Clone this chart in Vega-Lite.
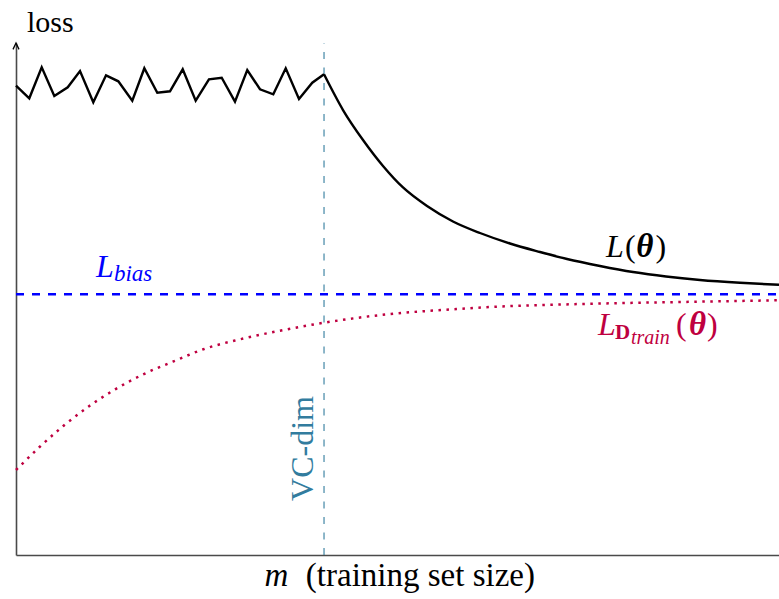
{
  "$schema": "https://vega.github.io/schema/vega-lite/v6.json",
  "width": 763,
  "height": 512,
  "autosize": {"type": "none"},
  "padding": {"left": 16, "top": 43, "right": 0, "bottom": 44},
  "background": "white",
  "config": {
    "view": {"stroke": null},
    "font": "Liberation Serif",
    "text": {"font": "Liberation Serif"},
    "axis": {"grid": false, "labels": false, "ticks": false, "domainColor": "#4a4a4a", "domainWidth": 1.6}
  },
  "datasets": {
    "trueLoss": [
      {"m": 0, "loss": 91.66}, {"m": 1.74, "loss": 89.2}, {"m": 3.37, "loss": 95.25}, {"m": 5.02, "loss": 89.65},
      {"m": 6.78, "loss": 91.35}, {"m": 8.39, "loss": 94.53}, {"m": 10.13, "loss": 88.42}, {"m": 11.8, "loss": 93.69},
      {"m": 13.41, "loss": 92.52}, {"m": 15.24, "loss": 88.73}, {"m": 16.82, "loss": 95.06}, {"m": 18.52, "loss": 90.29},
      {"m": 20.18, "loss": 90.57}, {"m": 21.85, "loss": 94.86}, {"m": 23.55, "loss": 88.73}, {"m": 25.29, "loss": 92.91},
      {"m": 26.96, "loss": 93.22}, {"m": 28.7, "loss": 88.54}, {"m": 30.31, "loss": 94.73}, {"m": 31.98, "loss": 90.96},
      {"m": 33.72, "loss": 89.98}, {"m": 35.35, "loss": 95.06}, {"m": 37.09, "loss": 89.06}, {"m": 38.83, "loss": 92.25},
      {"m": 40.37, "loss": 93.89}, {"m": 42.86, "loss": 86.91}, {"m": 45.48, "loss": 81.05}, {"m": 48.1, "loss": 75.98},
      {"m": 50.72, "loss": 71.78}, {"m": 53.87, "loss": 68.16}, {"m": 57.27, "loss": 65.14}, {"m": 60.81, "loss": 62.89},
      {"m": 64.74, "loss": 60.84}, {"m": 68.68, "loss": 59.18}, {"m": 72.22, "loss": 57.81}, {"m": 76.54, "loss": 56.45},
      {"m": 80.87, "loss": 55.27}, {"m": 85.19, "loss": 54.39}, {"m": 89.65, "loss": 53.71}, {"m": 94.89, "loss": 53.16},
      {"m": 100, "loss": 52.77}
    ],
    "trainLoss": [
      {"m": 0, "loss": 16.6}, {"m": 3.05, "loss": 21.04}, {"m": 6.2, "loss": 25.2}, {"m": 9.48, "loss": 28.96},
      {"m": 13.01, "loss": 32.36}, {"m": 16.68, "loss": 35.29}, {"m": 20.54, "loss": 37.75}, {"m": 24.55, "loss": 40.18},
      {"m": 29.36, "loss": 42.13}, {"m": 34.6, "loss": 43.81}, {"m": 40.72, "loss": 45.45}, {"m": 49.02, "loss": 47.07},
      {"m": 57.31, "loss": 47.99}, {"m": 61.47, "loss": 48.38}, {"m": 73.92, "loss": 49.02}, {"m": 87.02, "loss": 49.41},
      {"m": 100, "loss": 49.75}
    ]
  },
  "encoding": {
    "x": {"field": "m", "type": "quantitative", "scale": {"domain": [0, 100], "nice": false, "zero": false}, "axis": {"title": null}},
    "y": {"field": "loss", "type": "quantitative", "scale": {"domain": [0, 100], "nice": false, "zero": false}, "axis": {"title": null}}
  },
  "layer": [
    {
      "data": {"values": [{"m": 40.37, "loss": 0, "loss2": 100}]},
      "mark": {"type": "rule", "color": "#327c9e", "strokeWidth": 1.1, "strokeDash": [7, 8.5]},
      "encoding": {"y2": {"field": "loss2"}}
    },
    {
      "data": {"values": [{"m": 0, "m2": 100, "loss": 50.92}]},
      "mark": {"type": "rule", "color": "#0000ff", "strokeWidth": 2.4, "strokeDash": [8, 8]},
      "encoding": {"x2": {"field": "m2"}}
    },
    {
      "data": {"name": "trainLoss"},
      "mark": {"type": "line", "color": "#bf0040", "strokeWidth": 2.5, "strokeDash": [2.5, 5.5], "strokeCap": "butt", "interpolate": "monotone"},
      "encoding": {}
    },
    {
      "data": {"name": "trueLoss"},
      "transform": [{"filter": "datum.m <= 40.37"}],
      "mark": {"type": "line", "color": "#000000", "strokeWidth": 2.4, "strokeJoin": "miter"},
      "encoding": {}
    },
    {
      "data": {"name": "trueLoss"},
      "transform": [{"filter": "datum.m >= 40.37"}],
      "mark": {"type": "line", "color": "#000000", "strokeWidth": 2.4, "interpolate": "monotone"},
      "encoding": {}
    },
    {
      "data": {"values": [{"m": 0, "loss": 100}]},
      "mark": {"type": "point", "shape": "M-0.75,1.6 L0,0 L0.75,1.6", "filled": false, "stroke": "#000000", "strokeWidth": 1.3, "size": 64, "opacity": 1}
    },
    {
      "data": {"values": [{"text": "loss", "m": 1.44, "loss": 102.2}]},
      "mark": {"type": "text", "font": "Liberation Serif", "align": "left", "baseline": "alphabetic", "fontSize": 30, "color": "#000000"},
      "encoding": {"text": {"field": "text"}}
    },
    {
      "data": {"values": [{"text": "m", "m": 35.7, "loss": -6.05}]},
      "mark": {"type": "text", "font": "Liberation Serif", "align": "right", "baseline": "alphabetic", "fontSize": 33, "fontStyle": "italic", "color": "#000000"},
      "encoding": {"text": {"field": "text"}}
    },
    {
      "data": {"values": [{"text": "(training set size)", "m": 53.0, "loss": -6.05}]},
      "mark": {"type": "text", "font": "Liberation Serif", "align": "center", "baseline": "alphabetic", "fontSize": 33, "color": "#000000"},
      "encoding": {"text": {"field": "text"}}
    },
    {
      "data": {"values": [{"text": "VC-dim", "m": 38.93, "loss": 20.8}]},
      "mark": {"type": "text", "font": "Liberation Serif", "align": "center", "baseline": "alphabetic", "angle": 270, "fontSize": 32, "color": "#327c9e"},
      "encoding": {"text": {"field": "text"}}
    },
    {
      "data": {"values": [{"text": "L", "m": 10.48, "loss": 54.3}]},
      "mark": {"type": "text", "font": "Liberation Serif", "align": "left", "baseline": "alphabetic", "fontSize": 32, "fontStyle": "italic", "color": "#0000ff"},
      "encoding": {"text": {"field": "text"}}
    },
    {
      "data": {"values": [{"text": "bias", "m": 12.84, "loss": 53.52}]},
      "mark": {"type": "text", "font": "Liberation Serif", "align": "left", "baseline": "alphabetic", "fontSize": 23, "fontStyle": "italic", "color": "#0000ff"},
      "encoding": {"text": {"field": "text"}}
    },
    {
      "data": {"values": [{"text": "L", "m": 77.33, "loss": 58.26}]},
      "mark": {"type": "text", "font": "Liberation Serif", "align": "left", "baseline": "alphabetic", "fontSize": 32, "fontStyle": "italic", "color": "#000000"},
      "encoding": {"text": {"field": "text"}}
    },
    {
      "data": {"values": [{"text": "(", "m": 79.82, "loss": 58.26}, {"text": ")", "m": 83.8, "loss": 58.26}]},
      "mark": {"type": "text", "font": "Liberation Serif", "align": "left", "baseline": "alphabetic", "fontSize": 32, "fontWeight": "normal", "color": "#000000"},
      "encoding": {"text": {"field": "text"}}
    },
    {
      "data": {"values": [{"text": "θ", "m": 81.3, "loss": 58.26}]},
      "mark": {"type": "text", "font": "Liberation Serif", "align": "left", "baseline": "alphabetic", "fontSize": 33, "fontStyle": "italic", "fontWeight": "bold", "color": "#000000"},
      "encoding": {"text": {"field": "text"}}
    },
    {
      "data": {"values": [{"text": "L", "m": 76.28, "loss": 42.97}]},
      "mark": {"type": "text", "font": "Liberation Serif", "align": "left", "baseline": "alphabetic", "fontSize": 32, "fontStyle": "italic", "color": "#bf0040"},
      "encoding": {"text": {"field": "text"}}
    },
    {
      "data": {"values": [{"text": "D", "m": 78.5, "loss": 42.19}]},
      "mark": {"type": "text", "font": "Liberation Serif", "align": "left", "baseline": "alphabetic", "fontSize": 21, "fontWeight": "bold", "color": "#bf0040"},
      "encoding": {"text": {"field": "text"}}
    },
    {
      "data": {"values": [{"text": "train", "m": 80.6, "loss": 41.21}]},
      "mark": {"type": "text", "font": "Liberation Serif", "align": "left", "baseline": "alphabetic", "fontSize": 20, "fontStyle": "italic", "color": "#bf0040"},
      "encoding": {"text": {"field": "text"}}
    },
    {
      "data": {"values": [{"text": "(", "m": 86.5, "loss": 42.97}, {"text": ")", "m": 90.56, "loss": 42.97}]},
      "mark": {"type": "text", "font": "Liberation Serif", "align": "left", "baseline": "alphabetic", "fontSize": 32, "fontWeight": "normal", "color": "#bf0040"},
      "encoding": {"text": {"field": "text"}}
    },
    {
      "data": {"values": [{"text": "θ", "m": 88.2, "loss": 42.97}]},
      "mark": {"type": "text", "font": "Liberation Serif", "align": "left", "baseline": "alphabetic", "fontSize": 33, "fontStyle": "italic", "fontWeight": "bold", "color": "#bf0040"},
      "encoding": {"text": {"field": "text"}}
    }
  ]
}
